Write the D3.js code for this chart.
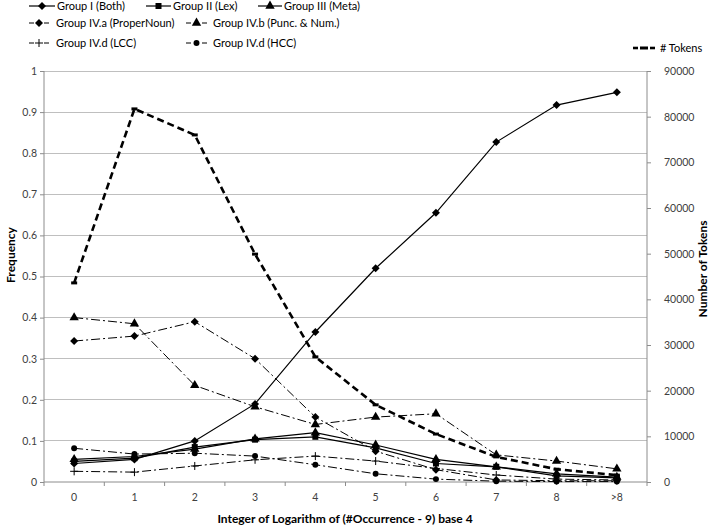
<!DOCTYPE html>
<html><head><meta charset="utf-8">
<script src="https://cdn.jsdelivr.net/npm/d3@7"></script>
<style>body{margin:0;background:#fff}svg{display:block}text{font-family:Lato,"Open Sans",sans-serif}</style>
</head><body>
<svg id="c" width="713" height="528"></svg>
<script>
const categories = ["0","1","2","3","4","5","6","7","8",">8"];
const groupIBoth     = [0.045,0.055,0.100,0.190,0.365,0.520,0.655,0.827,0.917,0.948];
const groupIILex     = [0.050,0.058,0.085,0.103,0.110,0.083,0.045,0.037,0.015,0.010];
const groupIIIMeta   = [0.055,0.062,0.080,0.105,0.120,0.090,0.055,0.037,0.020,0.012];
const groupIVaProper = [0.343,0.355,0.390,0.300,0.158,0.075,0.030,0.005,0.003,0.003];
const groupIVbPunc   = [0.400,0.385,0.235,0.183,0.140,0.158,0.166,0.066,0.051,0.032];
const groupIVdLCC    = [0.026,0.024,0.039,0.054,0.063,0.051,0.033,0.017,0.007,0.005];
const groupIVdHCC    = [0.082,0.068,0.070,0.063,0.042,0.020,0.007,0.002,0.001,0.001];
const tokens         = [43600,81700,76000,49900,27400,16900,10500,5500,2800,1500];
const leftTicks  = [0,0.1,0.2,0.3,0.4,0.5,0.6,0.7,0.8,0.9,1];
const rightTicks = [0,10000,20000,30000,40000,50000,60000,70000,80000,90000];

const svg = d3.select("#c");
const L=44, R=647, T=71, B=482;
const x = d3.scaleBand().domain(categories).range([L,R]);
const y = d3.scaleLinear().domain([0,1]).range([B,T]);
const y2 = d3.scaleLinear().domain([0,90000]).range([B,T]);
const cx = d => x(d)+x.bandwidth()/2;

svg.append("g").selectAll("line").data(leftTicks.filter(d=>d>0)).join("line")
  .attr("x1",L).attr("x2",R).attr("y1",d=>y(d)).attr("y2",d=>y(d))
  .attr("stroke","#bfbfbf").attr("stroke-width",1).attr("shape-rendering","crispEdges");

const gl = svg.append("g").attr("transform",`translate(${L},0)`)
  .call(d3.axisLeft(y).tickValues(leftTicks).tickSize(4).tickPadding(3).tickFormat(d=>d===0?"0":d===1?"1":d3.format(".1f")(d)));
const gr = svg.append("g").attr("transform",`translate(${R},0)`)
  .call(d3.axisRight(y2).tickValues(rightTicks).tickSize(4).tickPadding(13).tickFormat(d3.format("d")));
const gb = svg.append("g").attr("transform",`translate(0,${B})`)
  .call(d3.axisBottom(x).tickSize(0).tickPadding(12));
gb.append("g").selectAll("line").data(d3.range(categories.length+1)).join("line")
  .attr("x1",i=>L+i*x.step()).attr("x2",i=>L+i*x.step()).attr("y1",0).attr("y2",4)
  .attr("stroke","#8c8c8c");
[gl,gr,gb].forEach(g=>{
  g.selectAll(".domain").attr("stroke","#8c8c8c");
  g.selectAll(".tick line").attr("stroke","#8c8c8c");
  g.selectAll("text").attr("fill","#404040").style("font-size","10.5px").style("font-family","Lato,'Open Sans',sans-serif");
});
gl.select(".domain").attr("d",`M0,${B}V${T}`);
gr.select(".domain").attr("d",`M0,${B}V${T}`);
gb.select(".domain").attr("d",`M${L},0H${R}`);

svg.append("text").attr("transform","translate(15,255) rotate(-90)").attr("text-anchor","middle")
  .style("font-size","12px").style("font-weight","bold").attr("fill","#000").text("Frequency");
svg.append("text").attr("transform","translate(707,269) rotate(-90)").attr("text-anchor","middle")
  .style("font-size","12px").style("font-weight","bold").attr("fill","#000").text("Number of Tokens");
svg.append("text").attr("x",345).attr("y",523).attr("text-anchor","middle")
  .style("font-size","12px").style("font-weight","bold").attr("fill","#000")
  .text("Integer of Logarithm of (#Occurrence - 9) base 4");

const sym = {
  square: d3.symbol().type(d3.symbolSquare).size(36),
  triangle: d3.symbol().type(d3.symbolTriangle).size(38),
  circle: d3.symbol().type(d3.symbolCircle).size(28),
};
function drawMarker(g, kind, px, py){
  if(kind==="plus"){
    g.append("path").attr("d",`M${px-4},${py}H${px+4}M${px},${py-4}V${py+4}`).attr("stroke","#000").attr("stroke-width",1);
  } else if(kind==="dash"){
    g.append("rect").attr("x",px-3).attr("y",py-1.5).attr("width",6).attr("height",3).attr("fill","#000");
  } else if(kind==="diamond"){
    g.append("path").attr("d",`M${px},${py-4}L${px+4},${py}L${px},${py+4}L${px-4},${py}Z`).attr("fill","#000");
  } else {
    g.append("path").attr("d",sym[kind]()).attr("transform",`translate(${px},${py})`).attr("fill","#000");
  }
}
const DD = "9,3,2,3";
const series = [
  {name:"Group I (Both)", data:groupIBoth, scale:y, dash:null, w:1.2, m:"diamond"},
  {name:"Group II (Lex)", data:groupIILex, scale:y, dash:null, w:1.2, m:"square"},
  {name:"Group III (Meta)", data:groupIIIMeta, scale:y, dash:null, w:1.2, m:"triangle"},
  {name:"Group IV.a (ProperNoun)", data:groupIVaProper, scale:y, dash:DD, w:1, m:"diamond"},
  {name:"Group IV.b (Punc. & Num.)", data:groupIVbPunc, scale:y, dash:DD, w:1, m:"triangle"},
  {name:"Group IV.d (LCC)", data:groupIVdLCC, scale:y, dash:DD, w:1, m:"plus"},
  {name:"Group IV.d (HCC)", data:groupIVdHCC, scale:y, dash:DD, w:1, m:"circle"},
  {name:"# Tokens", data:tokens, scale:y2, dash:"7,4", w:2.6, m:"dash"},
];
const line = s => d3.line().x((d,i)=>cx(categories[i])).y(d=>s.scale(d));
series.forEach(s=>{
  const g = svg.append("g");
  g.append("path").datum(s.data).attr("d",line(s)).attr("fill","none").attr("stroke","#000")
    .attr("stroke-width",s.w).attr("stroke-dasharray",s.dash);
  s.data.forEach((d,i)=>drawMarker(g,s.m,cx(categories[i]),s.scale(d)));
});

const legendPos = [
  [29,6,57,55],[146,6,173,171],[258,6,284,282],
  [29,23,56,49],[186,23,213,207],
  [29,43,56,49],[186,43,213,207],
  [633,48,660,655]
];
series.forEach((s,i)=>{
  const [lx,ly,tx,le]=legendPos[i];
  const g = svg.append("g");
  const mid=(lx+le)/2;
  if(s.dash){
    g.append("line").attr("x1",lx).attr("x2",lx+5).attr("y1",ly).attr("y2",ly).attr("stroke","#000").attr("stroke-width",s.w);
    g.append("line").attr("x1",le-5).attr("x2",le).attr("y1",ly).attr("y2",ly).attr("stroke","#000").attr("stroke-width",s.w);
  } else {
    g.append("line").attr("x1",lx).attr("x2",le).attr("y1",ly).attr("y2",ly).attr("stroke","#000").attr("stroke-width",s.w);
  }
  if(s.m==="dash"){
    g.append("rect").attr("x",mid-4).attr("y",ly-1.5).attr("width",8).attr("height",3).attr("fill","#000");
  } else drawMarker(g,s.m,mid,ly);
  g.append("text").attr("x",tx).attr("y",ly+4).style("font-size","11px").attr("fill","#000").text(s.name);
});
</script>
</body></html>
